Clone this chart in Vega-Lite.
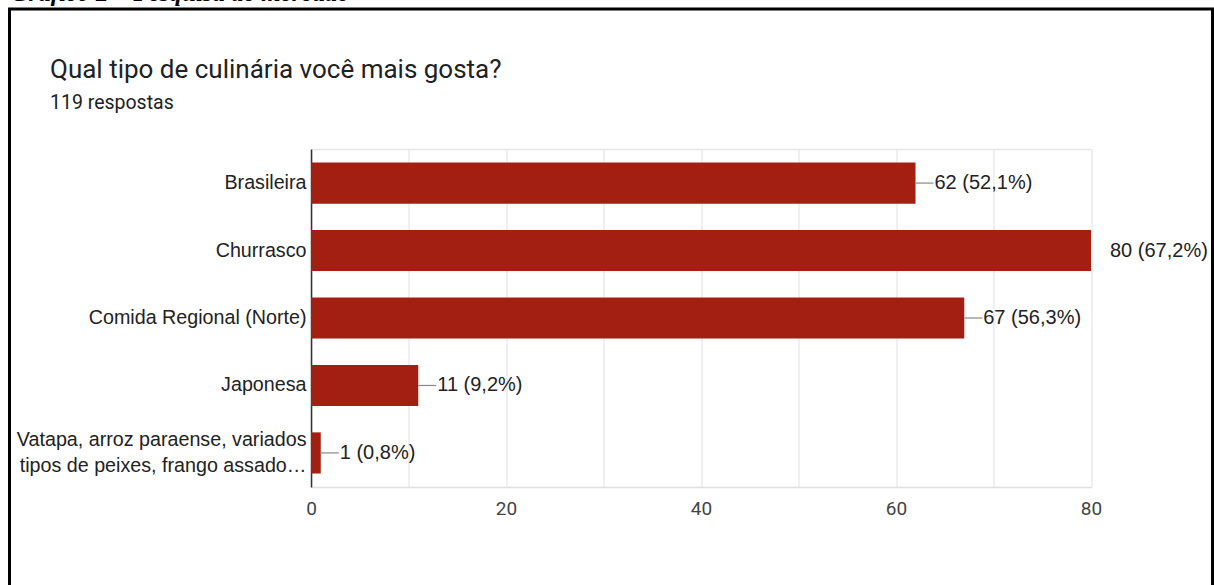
{
  "$schema": "https://vega.github.io/schema/vega-lite/v6.json",
  "autosize": {"type": "none"},
  "width": 1203,
  "height": 576,
  "padding": {"left": 9.5, "top": 9, "right": 1.5, "bottom": 0},
  "background": "white",
  "title": {
    "text": "Qual tipo de culinária você mais gosta?",
    "subtitle": "119 respostas",
    "anchor": "start",
    "frame": "group",
    "dx": 40.5,
    "offset": -132,
    "font": "Roboto",
    "fontSize": 26,
    "fontWeight": "normal",
    "color": "#202124",
    "subtitleFont": "Roboto",
    "subtitleFontSize": 19.5,
    "subtitleColor": "#202124",
    "subtitlePadding": 11
  },
  "config": {
    "view": {"stroke": "black", "strokeWidth": 3, "strokeDash": [1779, 1203, 700]}
  },
  "data": {
    "values": [
      {"cat": "Brasileira", "n": 62, "label": "62 (52,1%)"},
      {"cat": "Churrasco", "n": 80, "label": "80 (67,2%)"},
      {"cat": "Comida Regional (Norte)", "n": 67, "label": "67 (56,3%)"},
      {"cat": "Japonesa", "n": 11, "label": "11 (9,2%)"},
      {"cat": "Vatapa, arroz paraense, variados tipos de peixes, frango assado…", "n": 1, "label": "1 (0,8%)"}
    ]
  },
  "resolve": {"axis": {"x": "independent"}},
  "layer": [
    {
      "mark": {"type": "bar", "color": "#a21f12"},
      "encoding": {
        "x": {
          "field": "n",
          "type": "quantitative",
          "scale": {"domain": [0, 80], "range": [301.5, 1081.5], "nice": false, "zero": true},
          "axis": {
            "orient": "bottom",
            "offset": -98,
            "values": [0, 20, 40, 60, 80],
            "grid": false,
            "ticks": false,
            "labelFlush": false,
            "domainColor": "#e0e0e0",
            "domainWidth": 1.5,
            "labelFont": "Roboto",
            "labelFontSize": 19,
            "labelColor": "#444444",
            "labelPadding": 12,
            "title": null
          }
        },
        "y": {
          "field": "cat",
          "type": "nominal",
          "sort": null,
          "scale": {"range": [140, 478], "paddingInner": 0.39, "paddingOuter": 0.2},
          "axis": {
            "orient": "left",
            "offset": -301.5,
            "grid": false,
            "ticks": false,
            "domainColor": "#333333",
            "domainWidth": 1.5,
            "labelFont": "Liberation Sans",
            "labelFontSize": 19.7,
            "labelColor": "#222222",
            "labelPadding": 5,
            "labelLimit": 0,
            "labelLineHeight": 26,
            "labelOffset": {"condition": {"test": "indexof(datum.label, 'Vatapa') == 0", "value": -13}, "value": 0},
            "labelExpr": "indexof(datum.label, 'Vatapa') == 0 ? ['Vatapa, arroz paraense, variados', 'tipos de peixes, frango assado…'] : datum.label",
            "title": "Gráfico 2 – Pesquisa de mercado",
            "titleAngle": 0,
            "titleAlign": "left",
            "titleBaseline": "alphabetic",
            "titleX": -301,
            "titleY": -9,
            "titleFont": "Liberation Serif",
            "titleFontStyle": "italic",
            "titleFontWeight": "bold",
            "titleFontSize": 25,
            "titleColor": "#000000"
          }
        }
      }
    },
    {
      "mark": {"type": "rule", "color": "#888888", "strokeWidth": 1.2, "x2Offset": 18},
      "encoding": {
        "x": {
          "field": "n",
          "type": "quantitative",
          "axis": {
            "orient": "top",
            "offset": -140,
            "values": [0, 10, 20, 30, 40, 50, 60, 70, 80],
            "grid": true,
            "gridColor": "#e6e6e6",
            "gridWidth": 1.2,
            "ticks": false,
            "labels": false,
            "domainColor": "#e6e6e6",
            "domainWidth": 1.5,
            "title": null
          }
        },
        "x2": {"field": "n"},
        "y": {"field": "cat", "type": "nominal", "sort": null},
        "strokeOpacity": {"condition": {"test": "datum.n >= 80", "value": 0}, "value": 1}
      }
    },
    {
      "mark": {"type": "text", "align": "left", "baseline": "middle", "dx": 19, "font": "Liberation Sans", "fontSize": 20, "color": "#222222"},
      "encoding": {
        "x": {"field": "n", "type": "quantitative", "axis": null},
        "y": {"field": "cat", "type": "nominal", "sort": null},
        "text": {"field": "label"}
      }
    }
  ]
}
